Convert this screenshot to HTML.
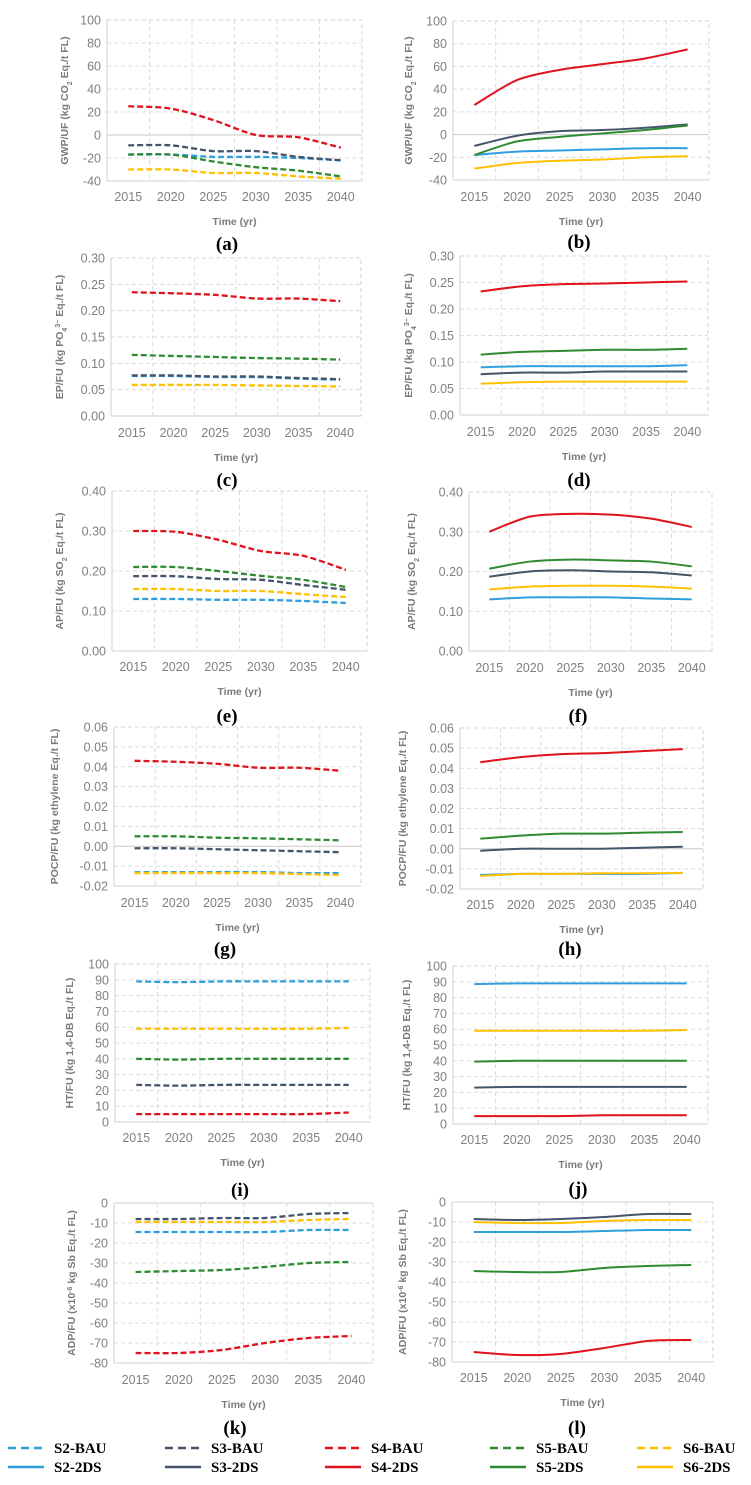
<!DOCTYPE html>
<html><head><meta charset="utf-8"><title>LCA impact panels</title>
<style>
html,body{margin:0;padding:0;background:#fff;}
svg{display:block;}
.tick{font-family:"Liberation Sans",sans-serif;font-size:12.5px;fill:#808080;}
.ytitle,.xtitle{font-family:"Liberation Sans",sans-serif;font-size:10.5px;font-weight:bold;fill:#7a7a7a;}
.plabel{font-family:"Liberation Serif",serif;font-size:19px;font-weight:bold;fill:#000;}
.leg{font-family:"Liberation Serif",serif;font-size:15px;font-weight:bold;fill:#000;}
</style></head>
<body>
<svg id="fig" width="751" height="1485" viewBox="0 0 751 1485" xmlns="http://www.w3.org/2000/svg"></svg>
<script>
// ---- data ----
const years = ["2015","2020","2025","2030","2035","2040"];
const seriesNames = ["S2","S3","S4","S5","S6"];
// (a) GWP BAU
const gwpBAU_S2 = [-17,-17,-19,-19,-20,-22];
const gwpBAU_S3 = [-9,-9,-14,-14,-19,-22];
const gwpBAU_S4 = [25,23,13,0,-2,-11];
const gwpBAU_S5 = [-17,-17,-23,-28,-31,-36];
const gwpBAU_S6 = [-30,-30,-33,-33,-36,-38];
// (b) GWP 2DS
const gwp2DS_S2 = [-18,-15,-14,-13,-12,-12];
const gwp2DS_S3 = [-10,-1,3,4,6,9];
const gwp2DS_S4 = [26,48,57,62,67,75];
const gwp2DS_S5 = [-18,-6,-2,1,4,8];
const gwp2DS_S6 = [-30,-25,-23,-22,-20,-19];
// (c) EP BAU
const epBAU_S2 = [0.076,0.076,0.074,0.074,0.071,0.069];
const epBAU_S3 = [0.077,0.077,0.075,0.075,0.072,0.070];
const epBAU_S4 = [0.235,0.233,0.230,0.223,0.223,0.218];
const epBAU_S5 = [0.116,0.114,0.112,0.110,0.109,0.107];
const epBAU_S6 = [0.059,0.059,0.059,0.058,0.057,0.056];
// (d) EP 2DS
const ep2DS_S2 = [0.090,0.092,0.092,0.092,0.092,0.094];
const ep2DS_S3 = [0.077,0.080,0.080,0.082,0.082,0.082];
const ep2DS_S4 = [0.233,0.243,0.247,0.248,0.250,0.252];
const ep2DS_S5 = [0.114,0.119,0.121,0.123,0.123,0.125];
const ep2DS_S6 = [0.059,0.062,0.063,0.063,0.063,0.063];
// (e) AP BAU
const apBAU_S2 = [0.130,0.130,0.128,0.128,0.125,0.120];
const apBAU_S3 = [0.187,0.187,0.180,0.178,0.165,0.153];
const apBAU_S4 = [0.300,0.298,0.278,0.250,0.238,0.203];
const apBAU_S5 = [0.210,0.210,0.200,0.188,0.178,0.160];
const apBAU_S6 = [0.155,0.155,0.150,0.150,0.142,0.135];
// (f) AP 2DS
const ap2DS_S2 = [0.130,0.135,0.135,0.135,0.132,0.130];
const ap2DS_S3 = [0.187,0.200,0.203,0.200,0.198,0.190];
const ap2DS_S4 = [0.300,0.338,0.345,0.343,0.333,0.312];
const ap2DS_S5 = [0.207,0.225,0.230,0.228,0.225,0.213];
const ap2DS_S6 = [0.155,0.162,0.164,0.164,0.162,0.157];
// (g) POCP BAU
const pocpBAU_S2 = [-0.013,-0.013,-0.013,-0.013,-0.0135,-0.0135];
const pocpBAU_S3 = [-0.001,-0.001,-0.0015,-0.002,-0.0025,-0.003];
const pocpBAU_S4 = [0.043,0.0425,0.0415,0.0395,0.0395,0.038];
const pocpBAU_S5 = [0.005,0.005,0.0043,0.004,0.0035,0.003];
const pocpBAU_S6 = [-0.0135,-0.0135,-0.0135,-0.0135,-0.014,-0.0145];
// (h) POCP 2DS
const pocp2DS_S2 = [-0.013,-0.0125,-0.0125,-0.0125,-0.0125,-0.012];
const pocp2DS_S3 = [-0.001,0,0,0,0.0005,0.001];
const pocp2DS_S4 = [0.043,0.0455,0.047,0.0475,0.0485,0.0495];
const pocp2DS_S5 = [0.005,0.0065,0.0075,0.0075,0.008,0.0083];
const pocp2DS_S6 = [-0.0135,-0.0125,-0.0125,-0.0122,-0.0122,-0.012];
// (i) HT BAU
const htBAU_S2 = [89,88.5,89,89,89,89];
const htBAU_S3 = [23.5,23,23.5,23.5,23.5,23.5];
const htBAU_S4 = [5,5,5,5,5,6];
const htBAU_S5 = [40,39.5,40,40,40,40];
const htBAU_S6 = [59,59,59,59,59,59.5];
// (j) HT 2DS
const ht2DS_S2 = [88.5,89,89,89,89,89];
const ht2DS_S3 = [23,23.5,23.5,23.5,23.5,23.5];
const ht2DS_S4 = [5,5,5,5.5,5.5,5.5];
const ht2DS_S5 = [39.5,40,40,40,40,40];
const ht2DS_S6 = [59,59,59,59,59,59.5];
// (k) ADP BAU
const adpBAU_S2 = [-14.5,-14.5,-14.5,-14.5,-13.5,-13.5];
const adpBAU_S3 = [-8,-8,-7.5,-7.5,-5.5,-5];
const adpBAU_S4 = [-75,-75,-73.5,-70,-67.5,-66.5];
const adpBAU_S5 = [-34.5,-34,-33.5,-32,-30,-29.5];
const adpBAU_S6 = [-9.5,-9.5,-9.5,-9.5,-8.5,-8];
// (l) ADP 2DS
const adp2DS_S2 = [-15,-15,-15,-14.5,-14,-14];
const adp2DS_S3 = [-8.5,-9,-8.5,-7.5,-6,-6];
const adp2DS_S4 = [-75,-76.5,-76,-73,-69.5,-69];
const adp2DS_S5 = [-34.5,-35,-35,-33,-32,-31.5];
const adp2DS_S6 = [-10,-10.5,-10.5,-9.5,-9,-9];
// tick label arrays
const ticksGWP = [-40,-20,0,20,40,60,80,100];
const ticksEP = [0,0.05,0.10,0.15,0.20,0.25,0.30];
const ticksAP = [0,0.10,0.20,0.30,0.40];
const ticksPOCP = [-0.02,-0.01,0,0.01,0.02,0.03,0.04,0.05,0.06];
const ticksHT = [0,10,20,30,40,50,60,70,80,90,100];
const ticksADP = [-80,-70,-60,-50,-40,-30,-20,-10,0];

const colors = {S2:"#2e9fdc",S3:"#44546a",S4:"#e0121b",S5:"#2f8a32",S6:"#ffc000"};
const NS = "http://www.w3.org/2000/svg";
const svg = document.getElementById('fig');
function mk(tag, attrs, parent){
  const e = document.createElementNS(NS, tag);
  for (const k in attrs) e.setAttribute(k, attrs[k]);
  (parent||svg).appendChild(e);
  return e;
}
function smoothPath(pts){
  let d = "M"+pts[0][0].toFixed(2)+","+pts[0][1].toFixed(2);
  for (let i=0;i<pts.length-1;i++){
    const p0=pts[Math.max(0,i-1)], p1=pts[i], p2=pts[i+1], p3=pts[Math.min(pts.length-1,i+2)];
    const t=0.14;
    const c1=[p1[0]+(p2[0]-p0[0])*t, p1[1]+(p2[1]-p0[1])*t];
    const c2=[p2[0]-(p3[0]-p1[0])*t, p2[1]-(p3[1]-p1[1])*t];
    d+=" C"+c1[0].toFixed(2)+","+c1[1].toFixed(2)+" "+c2[0].toFixed(2)+","+c2[1].toFixed(2)+" "+p2[0].toFixed(2)+","+p2[1].toFixed(2);
  }
  return d;
}

function panel(cfg){
  const g = mk('g', {});
  
  
  const {x0,x1,y0,y1,ticks,dec} = cfg;
  const ymin = ticks[0], ymax = ticks[ticks.length-1];
  const yS = v => y1 - (v - ymin)/(ymax - ymin)*(y1 - y0);
  const bw = (x1 - x0)/years.length;
  const xS = i => x0 + bw*(i+0.5);
  ticks.forEach(t=>{
    const y = yS(t);
    const ln = mk('line', {x1:x0,x2:x1,y1:y,y2:y,stroke:(t===0&&ymin<0)?"#c8c8c8":"#dcdcdc","stroke-width":1,"stroke-dasharray":(t===0&&ymin<0)?"none":"4 3"}, g);
    
    
    const tx = mk('text', {x:x0-6,y:y+4.5,"text-anchor":"end",class:"tick"}, g);
    tx.textContent = t.toFixed(dec);
    
    
  });
  for (let i=1;i<years.length;i++){
    const x = x0 + bw*i;
    const ln = mk('line', {x1:x,x2:x,y1:y0,y2:y1,stroke:"#dcdcdc","stroke-width":1,"stroke-dasharray":"4 3"}, g);
    
    
  }
  const box = mk('rect', {x:x0,y:y0,width:x1-x0,height:y1-y0,fill:"none",stroke:"#d6d6d6","stroke-width":1,"stroke-dasharray":"4 3"}, g);
  
  
  const la = mk('line', {x1:x0,x2:x0,y1:y0,y2:y1,stroke:"#d0d0d0","stroke-width":1}, g);
  
  
  const ba = mk('line', {x1:x0,x2:x1,y1:y1,y2:y1,stroke:"#d0d0d0","stroke-width":1}, g);
  
  
  years.forEach((yr,i)=>{
    const tx = mk('text', {x:xS(i),y:cfg.ty,"text-anchor":"middle",class:"tick"}, g);
    tx.textContent = yr;
    
    
  });
  const xt = mk('text', {x:(x0+x1)/2,y:cfg.ty+24,"text-anchor":"middle",class:"xtitle"}, g);
  xt.textContent = "Time (yr)";
  
  
  const yt = mk('text', {x:0,y:0,"text-anchor":"middle",class:"ytitle",transform:"translate("+cfg.tx+","+((y0+y1)/2)+") rotate(-90)"}, g);
  
  
  cfg.title.forEach(part=>{
    const ts = mk('tspan', {}, yt);
    ts.textContent = part[0];
    if (part[1]==='sub'){ ts.setAttribute('baseline-shift','sub'); ts.setAttribute('font-size','7'); }
    if (part[1]==='sup'){ ts.setAttribute('baseline-shift','super'); ts.setAttribute('font-size','7'); }
  });
  cfg.series.forEach((vals,si)=>{
    const nm = seriesNames[si];
    const pts = vals.map((v,i)=>[xS(i), yS(v)]);
    const p = mk('path', {d:smoothPath(pts),fill:"none",stroke:colors[nm],"stroke-width":cfg.dash?2.3:2,"stroke-dasharray":cfg.dash?"6 3":"none","stroke-linecap":"butt"}, g);
    
    
  });
  const pl = mk('text', {x:cfg.lx,y:cfg.ly,"text-anchor":"middle",class:"plabel"}, g);
  pl.textContent = "("+cfg.id+")";
  
  
}

const tGWP=[["GWP/UF (kg CO"],["2","sub"],[" Eq./t FL)"]];
const tEP=[["EP/FU (kg PO"],["4","sub"],["3−","sup"],[" Eq./t FL)"]];
const tAP=[["AP/FU (kg SO"],["2","sub"],[" Eq./t FL)"]];
const tPOCP=[["POCP/FU (kg ethylene Eq./t FL)"]];
const tHT=[["HT/FU (kg 1,4-DB Eq./t FL)"]];
const tADP=[["ADP/FU (x10"],["-6","sup"],[" kg Sb Eq./t FL)"]];

panel({id:"a",x0:107,x1:362,y0:20,y1:181,ty:201,tx:68,lx:227,ly:250,ticks:ticksGWP,dec:0,dash:true,title:tGWP,series:[gwpBAU_S2,gwpBAU_S3,gwpBAU_S4,gwpBAU_S5,gwpBAU_S6]});
panel({id:"b",x0:453,x1:709,y0:21,y1:180,ty:201,tx:412,lx:579,ly:248,ticks:ticksGWP,dec:0,dash:false,title:tGWP,series:[gwp2DS_S2,gwp2DS_S3,gwp2DS_S4,gwp2DS_S5,gwp2DS_S6]});
panel({id:"c",x0:111,x1:361,y0:258,y1:416,ty:437,tx:63,lx:227,ly:486,ticks:ticksEP,dec:2,dash:true,title:tEP,series:[epBAU_S2,epBAU_S3,epBAU_S4,epBAU_S5,epBAU_S6]});
panel({id:"d",x0:460,x1:708,y0:256,y1:415,ty:436,tx:412,lx:579,ly:486,ticks:ticksEP,dec:2,dash:false,title:tEP,series:[ep2DS_S2,ep2DS_S3,ep2DS_S4,ep2DS_S5,ep2DS_S6]});
panel({id:"e",x0:112,x1:367,y0:491,y1:651,ty:671,tx:63,lx:227,ly:722,ticks:ticksAP,dec:2,dash:true,title:tAP,series:[apBAU_S2,apBAU_S3,apBAU_S4,apBAU_S5,apBAU_S6]});
panel({id:"f",x0:469,x1:712,y0:492,y1:651,ty:672,tx:415,lx:578,ly:722,ticks:ticksAP,dec:2,dash:false,title:tAP,series:[ap2DS_S2,ap2DS_S3,ap2DS_S4,ap2DS_S5,ap2DS_S6]});
panel({id:"g",x0:114,x1:361,y0:727,y1:886,ty:907,tx:58,lx:225,ly:955,ticks:ticksPOCP,dec:2,dash:true,title:tPOCP,series:[pocpBAU_S2,pocpBAU_S3,pocpBAU_S4,pocpBAU_S5,pocpBAU_S6]});
panel({id:"h",x0:460,x1:703,y0:728,y1:889,ty:909,tx:406,lx:570,ly:955,ticks:ticksPOCP,dec:2,dash:false,title:tPOCP,series:[pocp2DS_S2,pocp2DS_S3,pocp2DS_S4,pocp2DS_S5,pocp2DS_S6]});
panel({id:"i",x0:115,x1:370,y0:964,y1:1122,ty:1142,tx:73,lx:240,ly:1196,ticks:ticksHT,dec:0,dash:true,title:tHT,series:[htBAU_S2,htBAU_S3,htBAU_S4,htBAU_S5,htBAU_S6]});
panel({id:"j",x0:453,x1:708,y0:966,y1:1124,ty:1144,tx:410,lx:578,ly:1195,ticks:ticksHT,dec:0,dash:false,title:tHT,series:[ht2DS_S2,ht2DS_S3,ht2DS_S4,ht2DS_S5,ht2DS_S6]});
panel({id:"k",x0:114,x1:373,y0:1203,y1:1363,ty:1384,tx:75,lx:235,ly:1434,ticks:ticksADP,dec:0,dash:true,title:tADP,series:[adpBAU_S2,adpBAU_S3,adpBAU_S4,adpBAU_S5,adpBAU_S6]});
panel({id:"l",x0:452,x1:713,y0:1202,y1:1362,ty:1382,tx:406,lx:577,ly:1434,ticks:ticksADP,dec:0,dash:false,title:tADP,series:[adp2DS_S2,adp2DS_S3,adp2DS_S4,adp2DS_S5,adp2DS_S6]});

const legX = [8,165,325,490,637];
const lg = mk('g', {});


seriesNames.forEach((nm,i)=>{
  const x = legX[i];
  [["BAU",1448,"8 5"],["2DS",1467,"none"]].forEach(r=>{
    const ln = mk('line', {x1:x,x2:x+36,y1:r[1],y2:r[1],stroke:colors[nm],"stroke-width":2.5,"stroke-dasharray":r[2]}, lg);
    
    
    const tx = mk('text', {x:x+46,y:r[1]+5,class:"leg"}, lg);
    tx.textContent = nm+"-"+r[0];
    
    
  });
});
</script>
</body></html>
